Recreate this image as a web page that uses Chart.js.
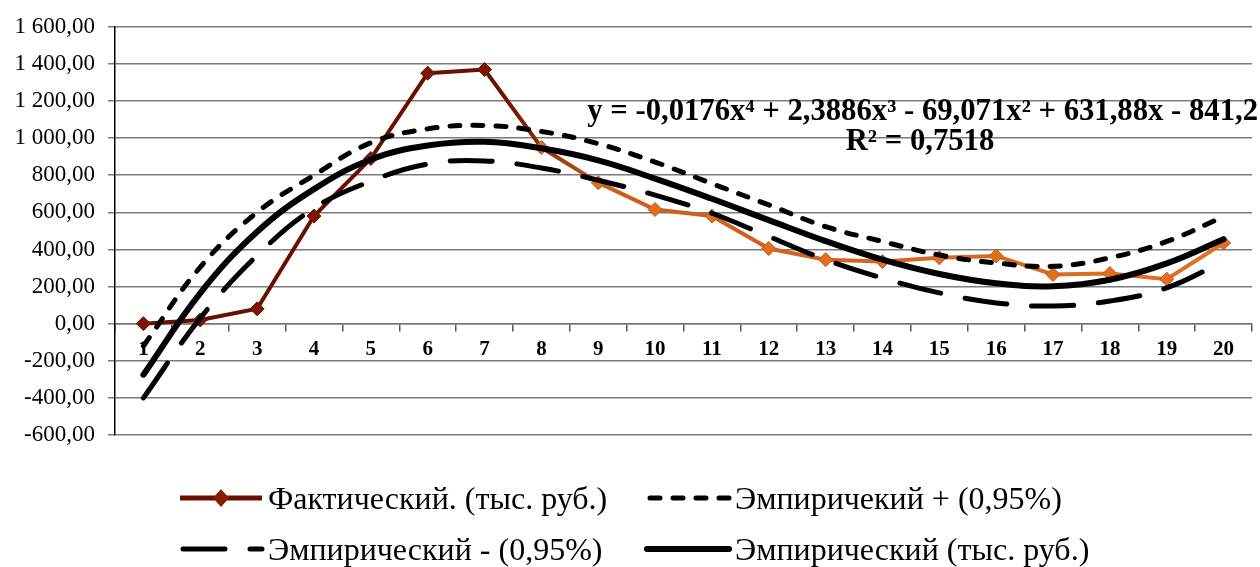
<!DOCTYPE html>
<html>
<head>
<meta charset="utf-8">
<title>Фактический и эмпирический</title>
<script src="https://cdn.jsdelivr.net/npm/chart.js@4.4.0/dist/chart.umd.min.js"></script>
<style>
    html, body { margin: 0; padding: 0; background: #fff; }
    #wrap { width: 1260px; height: 567px; position: relative; }
</style>
</head>
<body>
<div id="wrap"><canvas id="chart"></canvas></div>
<script>
// Periods on the x axis
const periods = ['1', '2', '3', '4', '5', '6', '7', '8', '9', '10',
                 '11', '12', '13', '14', '15', '16', '17', '18', '19', '20'];

// Values (тыс. руб.)
const actual    = [0, 20, 80, 580, 890, 1350, 1370, 950, 760, 615, 580, 405, 345, 335, 355, 365, 265, 270, 240, 435];
const empirical = [-275, 165, 495, 725, 885, 960, 980, 945, 880, 782, 673, 558, 445, 345, 268, 218, 202, 237, 325, 455];
const upper     = [-120, 305, 600, 800, 975, 1050, 1068, 1036, 970, 871, 755, 640, 523, 443, 370, 327, 309, 355, 443, 577];
const lower     = [-400, 30, 368, 622, 768, 860, 877, 839, 773, 693, 595, 470, 345, 246, 166, 112, 95, 122, 193, 336];

const yTicks = { min: -600, max: 1600, step: 200 };

const trendText = 'y = -0,0176x⁴ + 2,3886x³ - 69,071x² + 631,88x - 841,2';
const r2Text = 'R² = 0,7518';

const serif = '"Liberation Serif", "Times New Roman", serif';

// "1 600,00" style numbers
function fmt(v) {
    const neg = v < 0;
    let s = Math.abs(v).toFixed(2).replace('.', ',');
    let [intPart, dec] = s.split(',');
    intPart = intPart.replace(/\B(?=(\d{3})+(?!\d))/g, ' ');
    return (neg ? '-' : '') + intPart + ',' + dec;
}

function actualGradient(context) {
    const chart = context.chart;
    const area = chart.chartArea;
    if (!area) return '#6b1000';
    const g = chart.ctx.createLinearGradient(area.left, 0, area.right, 0);
    g.addColorStop(0, '#640f00');
    g.addColorStop(0.34, '#6a1100');
    g.addColorStop(0.43, '#cc5c1a');
    g.addColorStop(1, '#e27224');
    return g;
}

// Legend laid out as a 2x2 grid, like the original
const gridLegend = {
    id: 'gridLegend',
    afterDraw(chart) {
        const ctx = chart.ctx;
        const items = [
            { ds: 0, x: 180, y: 498 },
            { ds: 1, x: 647, y: 498 },
            { ds: 2, x: 180, y: 549 },
            { ds: 3, x: 647, y: 549 }
        ];
        ctx.save();
        items.forEach(function(it) {
            const ds = chart.data.datasets[it.ds];
            const x0 = it.x, x1 = it.x + 82, y = it.y;
            ctx.beginPath();
            ctx.lineWidth = it.ds === 0 ? 5 : ds.borderWidth;
            ctx.strokeStyle = it.ds === 0 ? '#6a1000' : '#000';
            ctx.lineCap = it.ds === 0 ? 'butt' : 'round';
            ctx.setLineDash(ds.borderDash || []);
            ctx.moveTo(x0 + (ds.borderDash ? 3 : 0), y);
            ctx.lineTo(x1, y);
            ctx.stroke();
            ctx.setLineDash([]);
            if (it.ds === 0) {
                const cx = (x0 + x1) / 2;
                ctx.beginPath();
                ctx.moveTo(cx, y - 9);
                ctx.lineTo(cx + 8, y);
                ctx.lineTo(cx, y + 9);
                ctx.lineTo(cx - 8, y);
                ctx.closePath();
                ctx.fillStyle = '#8a1a02';
                ctx.fill();
            }
            ctx.fillStyle = '#000';
            ctx.font = '32px ' + serif;
            ctx.textAlign = 'left';
            ctx.textBaseline = 'alphabetic';
            ctx.fillText(ds.label, x1 + 6, y + 11);
        });
        ctx.restore();
    }
};

// Trendline equation box
const trendLabel = {
    id: 'trendLabel',
    afterDraw(chart) {
        const ctx = chart.ctx;
        ctx.save();
        ctx.fillStyle = '#000';
        ctx.font = 'bold 26px ' + serif;
        const w = ctx.measureText(trendText).width;
        const size = 26 * 670 / w;
        ctx.font = 'bold ' + size.toFixed(1) + 'px ' + serif;
        ctx.textAlign = 'right';
        ctx.textBaseline = 'alphabetic';
        ctx.fillText(trendText, 1258, 120);
        ctx.textAlign = 'center';
        ctx.fillText(r2Text, 920, 150);
        ctx.restore();
    }
};

const ctx = document.getElementById('chart').getContext('2d');
new Chart(ctx, {
    type: 'line',
    data: {
        labels: periods,
        datasets: [{
            label: 'Фактический. (тыс. руб.)',
            data: actual,
            borderColor: actualGradient,
            borderWidth: 4,
            pointStyle: 'rectRot',
            pointRadius: 7,
            pointBackgroundColor: function(c) { return c.dataIndex < 7 ? '#7c1602' : '#e0701f'; },
            pointBorderColor: function(c) { return c.dataIndex < 7 ? '#6a1000' : '#c4541a'; },
            pointBorderWidth: 1,
            tension: 0,
            order: 5
        }, {
            label: 'Эмпиричекий + (0,95%)',
            data: upper,
            borderColor: '#000',
            borderWidth: 5,
            borderDash: [10, 13],
            borderCapStyle: 'round',
            pointRadius: 0,
            tension: 0.4,
            order: 3
        }, {
            label: 'Эмпирический - (0,95%)',
            data: lower,
            borderColor: '#000',
            borderWidth: 5,
            borderDash: [42, 25],
            borderCapStyle: 'round',
            pointRadius: 0,
            tension: 0.4,
            order: 2
        }, {
            label: 'Эмпирический (тыс. руб.)',
            data: empirical,
            borderColor: '#000',
            borderWidth: 6,
            borderCapStyle: 'round',
            pointRadius: 0,
            tension: 0.4,
            order: 1
        }]
    },
    options: {
        responsive: true,
        maintainAspectRatio: false,
        animation: false,
        layout: {
            padding: { left: 0, right: 5, top: 24, bottom: 132 }
        },
        scales: {
            x: {
                position: { y: 0 },
                offset: true,
                grid: {
                    display: true,
                    drawOnChartArea: false,
                    drawTicks: true,
                    tickLength: 7,
                    offset: true,
                    color: '#555',
                    lineWidth: 1.5
                },
                border: { display: true, color: '#777', width: 1.5 },
                ticks: {
                    color: '#000',
                    font: { family: serif, size: 21, weight: 'bold' },
                    padding: 6,
                    maxRotation: 0,
                    autoSkip: false
                }
            },
            y: {
                min: yTicks.min,
                max: yTicks.max,
                afterFit: function(scale) { scale.width = 115; },
                grid: {
                    color: '#7a7a7a',
                    lineWidth: 1.5,
                    tickLength: 7
                },
                border: { display: true, color: '#000', width: 1.5 },
                ticks: {
                    stepSize: yTicks.step,
                    color: '#000',
                    font: { family: serif, size: 23 },
                    padding: 13,
                    callback: function(v) { return fmt(v); }
                }
            }
        },
        plugins: {
            legend: { display: false },
            tooltip: { enabled: false }
        }
    },
    plugins: [gridLegend, trendLabel]
});
</script>
</body>
</html>
